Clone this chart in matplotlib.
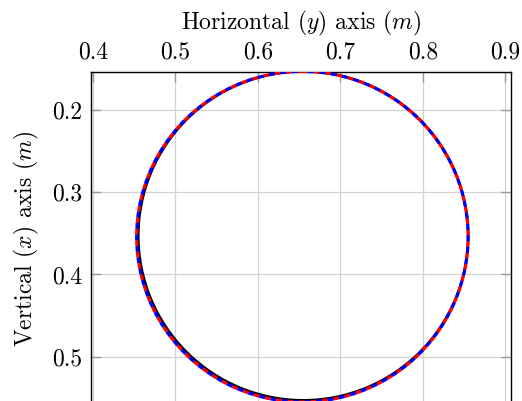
import matplotlib
matplotlib.use("Agg")
import matplotlib.pyplot as plt
from matplotlib.patches import Circle

plt.rcParams['font.family'] = 'serif'
plt.rcParams['font.serif'] = ['cmr10']
plt.rcParams['mathtext.fontset'] = 'cm'
plt.rcParams['axes.formatter.use_mathtext'] = True

# Data: three circular trajectories (horizontal y centre, vertical x centre, radius)
series_names = ['reference', 'estimate A', 'estimate B']
centre_y = [0.655, 0.654, 0.654]
centre_x = [0.353, 0.354, 0.354]
radius = [0.200, 0.201, 0.201]
colors = ['black', 'red', 'blue']

x_ticks = [0.4, 0.5, 0.6, 0.7, 0.8, 0.9]
y_ticks = [0.2, 0.3, 0.4, 0.5]

fig = plt.figure(figsize=(5.22, 4.01), dpi=100)
ax = fig.add_axes([91/522, -0.0125, 420/522, (334)/401])

styles = [dict(linestyle='-', linewidth=1.8),
          dict(linestyle=(0, (1.8, 1.8)), linewidth=2.3),
          dict(linestyle=(1.8, (1.8, 1.8)), linewidth=2.3)]
for cy, cx, r, c, st in zip(centre_y, centre_x, radius, colors, styles):
    ax.add_patch(Circle((cy, cx), r, fill=False, edgecolor=c, **st, zorder=3))

ax.set_xlim(0.3976, 0.907)
ax.set_ylim(0.56, 0.1538)
ax.set_xticks(x_ticks)
ax.set_yticks(y_ticks)
ax.set_xticklabels([f'{v:.1f}' for v in x_ticks])
ax.set_yticklabels([f'{v:.1f}' for v in y_ticks])
ax.xaxis.tick_top()
ax.xaxis.set_label_position('top')
ax.tick_params(axis='both', which='both', direction='in', length=7, width=1,
               color='#999999', labelsize=17, top=True, bottom=False,
               left=True, right=True, labeltop=True, labelbottom=False, pad=6)
ax.grid(True, color='#d3d3d3', linewidth=0.9)
ax.set_axisbelow(True)
for s in ax.spines.values():
    s.set_linewidth(1.0)
ax.set_xlabel(r'Horizontal $(y)$ axis $(m)$', fontsize=17, labelpad=9)
ax.set_ylabel(r'Vertical $(x)$ axis $(m)$', fontsize=17, labelpad=8)

fig.savefig('out.png', dpi=100)
